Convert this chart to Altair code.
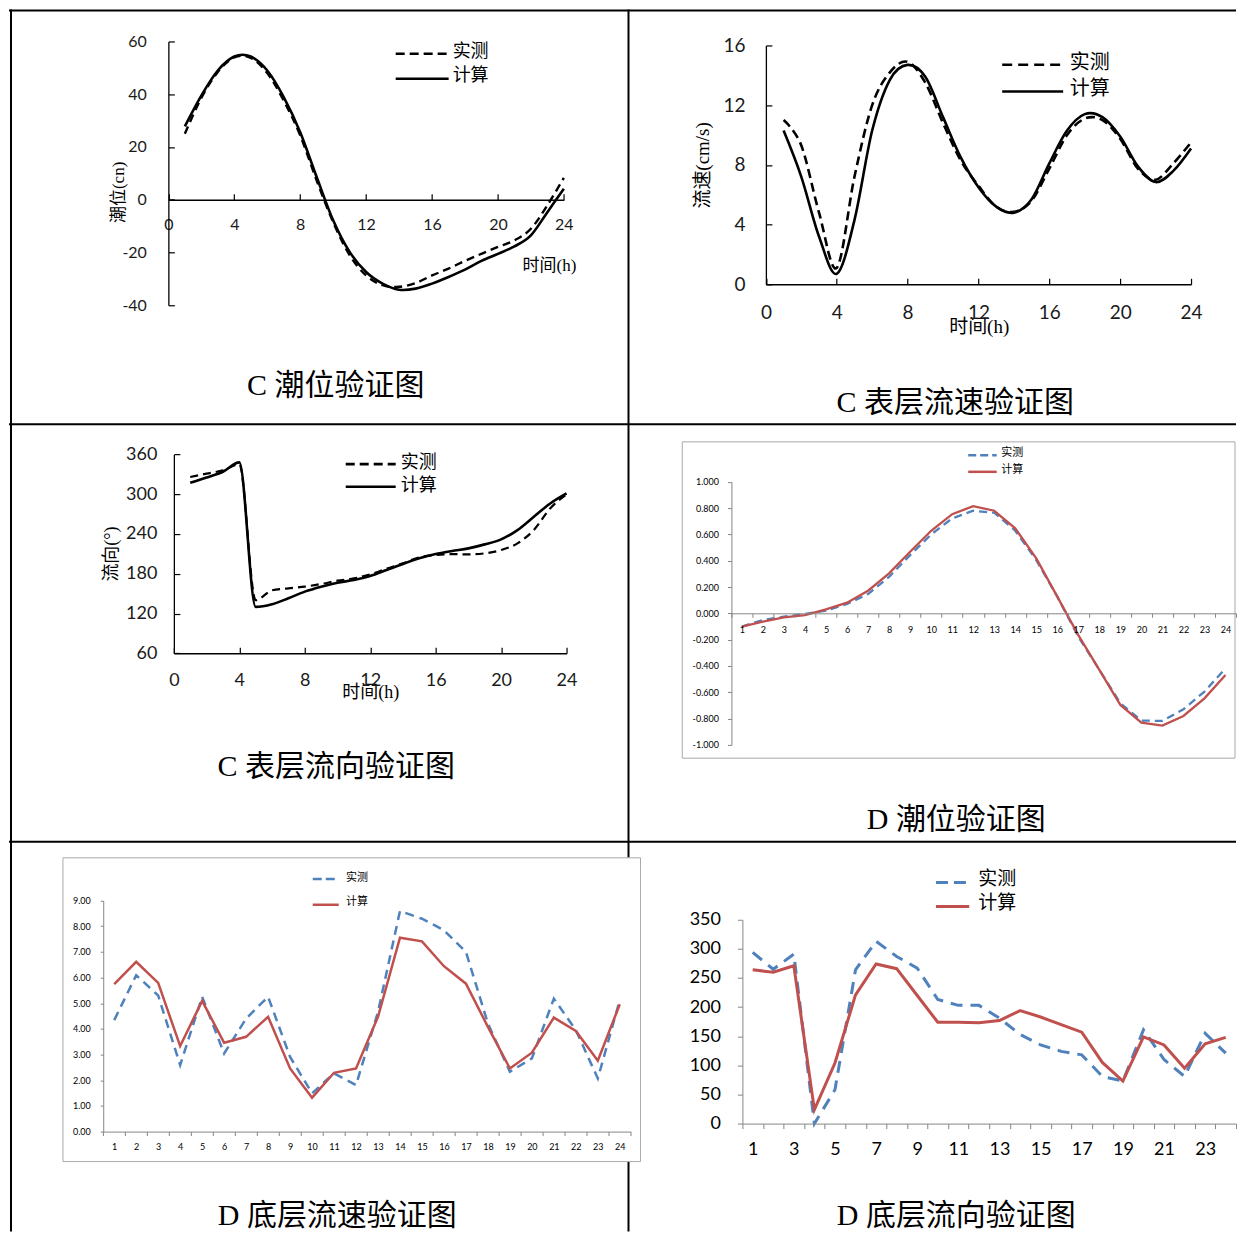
import altair as alt
import pandas as pd

hours = list(range(1, 25))

# C 潮位 (cm)
a_meas = [25.0, 38.6, 48.4, 54.0, 53.8, 48.0, 37.6, 24.4, 7.3, -8.5, -21.0, -28.7,
          -32.4, -33.0, -31.6, -28.7, -26.1, -23.2, -20.5, -17.9, -15.4, -11.0, -2.1, 8.3]
a_calc = [27.8, 39.5, 49.0, 54.3, 54.3, 49.0, 38.9, 25.6, 8.6, -7.8, -19.8, -27.4,
          -31.8, -34.1, -33.7, -31.8, -29.3, -26.5, -23.2, -20.5, -17.7, -13.5, -4.7, 4.2]
# C 表层流速 (cm/s)
b_meas = [11.0, 9.3, 4.8, 1.1, 7.2, 12.0, 14.2, 14.9, 13.5, 10.8, 8.3, 6.6,
          5.2, 4.85, 5.6, 7.75, 10.0, 11.1, 11.0, 9.75, 7.75, 7.0, 8.1, 9.5]
b_calc = [10.3, 7.2, 3.2, 0.7, 4.3, 10.3, 13.7, 14.7, 13.9, 11.2, 8.5, 6.5,
          5.2, 4.8, 5.7, 8.1, 10.3, 11.4, 11.2, 9.9, 7.9, 6.85, 7.6, 9.1]
# C 表层流向 (°)
c_meas = [326, 331, 336, 345, 140, 155, 158, 160.5, 164.5, 169.5, 173, 179,
          187.6, 195.7, 204.7, 208.2, 209.7, 209.2, 210.8, 215.8, 225.8, 246, 278.6, 299.7]
c_calc = [317.3, 325.3, 333.9, 348, 130, 134, 143, 153, 160.5, 166.5, 170.5, 176.6,
          185.6, 194.7, 203.2, 209.7, 214.3, 218.3, 224.3, 231.9, 245.9, 266, 286, 301.2]
# D 潮位
d_meas = [-0.101, -0.05, -0.025, -0.005, 0.02, 0.071, 0.147, 0.278, 0.443, 0.6, 0.722, 0.78,
          0.765, 0.628, 0.405, 0.127, -0.177, -0.43, -0.684, -0.815, -0.818, -0.729, -0.595, -0.418]
d_calc = [-0.101, -0.063, -0.03, -0.013, 0.03, 0.081, 0.172, 0.304, 0.468, 0.628, 0.754, 0.815,
          0.78, 0.646, 0.418, 0.127, -0.165, -0.43, -0.696, -0.83, -0.853, -0.78, -0.646, -0.468]
# D 底层流速
e_meas = [4.34, 6.09, 5.3, 2.59, 5.25, 3.04, 4.40, 5.25, 2.91, 1.49, 2.27, 1.81,
          4.66, 8.59, 8.29, 7.84, 7.0, 4.21, 2.33, 2.85, 5.18, 3.95, 2.07, 5.12]
e_calc = [5.74, 6.61, 5.79, 3.33, 5.09, 3.46, 3.69, 4.47, 2.46, 1.32, 2.29, 2.46,
          4.47, 7.55, 7.41, 6.44, 5.76, 4.08, 2.46, 3.07, 4.44, 3.92, 2.76, 4.96]
# D 底层流向
f_meas = [294, 265, 291, 0, 58, 264, 313, 287, 267, 213, 203, 203,
          181, 153, 135, 124, 118, 81, 73, 161, 110, 81, 155, 121]
f_calc = [264, 260, 271, 24, 104, 221, 274, 266, 220, 174, 174, 173,
          177, 194, 183, 170, 157, 105, 73, 149, 135, 95, 137, 148]

a_xvals = [0, 4, 8, 12, 16, 20, 24]
a_yvals = [-40, -20, 0, 20, 40, 60]
b_yvals = [0, 4, 8, 12, 16]
c_yvals = [60, 120, 180, 240, 300, 360]
d_yvals = [-1.0, -0.8, -0.6, -0.4, -0.2, 0.0, 0.2, 0.4, 0.6, 0.8, 1.0]
e_yvals = [0, 1, 2, 3, 4, 5, 6, 7, 8, 9]
f_yvals = [0, 50, 100, 150, 200, 250, 300, 350]
cat_ticks = [h - 0.5 for h in hours] + [24.5]

legend_texts = ["实测", "计算"]
captions = ["C 潮位验证图", "C 表层流速验证图", "C 表层流向验证图",
            "D 潮位验证图", "D 底层流速验证图", "D 底层流向验证图"]

FONT_NUM = "Lato"
FONT_CJK = "Noto Sans CJK SC"
FONT_MIX = "Liberation Serif, Noto Sans CJK SC"
BLUE = "#4F81BD"
RED = "#C0504D"
GRAY = "#868686"
FIX = "replace(datum.label, '\u2212', '-')"
CAP = 30

one = pd.DataFrame({"k": [0]})


def hline(x1, x2, y, color="#000", w=2, dash=None):
    kw = dict(color=color, strokeWidth=w)
    if dash:
        kw["strokeDash"] = dash
    return alt.Chart(one).mark_rule(**kw).encode(x=alt.value(x1), x2=alt.value(x2), y=alt.value(y))


def vline(x, y1, y2, color="#000", w=2):
    return alt.Chart(one).mark_rule(color=color, strokeWidth=w).encode(
        x=alt.value(x), y=alt.value(y1), y2=alt.value(y2))


def text(t, x, y, size, font, align="left", angle=None, color="#000"):
    kw = dict(text=t, fontSize=size, font=font, align=align, baseline="middle", color=color)
    if angle is not None:
        kw["angle"] = angle
    return alt.Chart(one).mark_text(**kw).encode(x=alt.value(x), y=alt.value(y))


def frame(x1, x2, y1, y2):
    return alt.Chart(one).mark_rect(fill="white", stroke="#aaaaaa", strokeWidth=1).encode(
        x=alt.value(x1), x2=alt.value(x2), y=alt.value(y1), y2=alt.value(y2))


def legend(x1, x2, y1, y2, tx, ty1, ty2, size, c1, c2, w, dash):
    return [
        hline(x1, x2, y1, color=c1, w=w, dash=dash),
        hline(x1, x2, y2, color=c2, w=w),
        text(legend_texts[0], tx, ty1, size, FONT_CJK),
        text(legend_texts[1], tx, ty2, size, FONT_CJK),
    ]


def smooth_lines(W, H, meas, calc, xr, ybot, ytop, ydom, yvals, xax, yax, fs,
                 xpad, ypad, interp, dash, wm, wc):
    df = pd.DataFrame({"h": hours, "meas": meas, "calc": calc})
    xs = alt.Scale(domain=[0, 24], range=xr, nice=False, zero=False)
    ys = alt.Scale(domain=ydom, range=[ybot, ytop], nice=False, zero=False)
    common = dict(grid=False, zindex=1, title=None)
    lab = dict(labelFont=FONT_NUM, labelFontSize=fs, labelColor="#1a1a1a",
               labelOverlap=False, labelFlush=False, labelExpr=FIX)
    l1 = alt.Chart(df).mark_line(color="#000", strokeWidth=wm, strokeDash=dash,
                                 interpolate=interp).encode(
        x=alt.X("h:Q", scale=xs, axis=alt.Axis(
            orient="bottom", offset=xax - H, values=a_xvals, ticks=False,
            labelPadding=xpad, labelBaseline="middle", domainColor="#000",
            domainWidth=1.3, **lab, **common)),
        y=alt.Y("meas:Q", scale=ys, axis=alt.Axis(
            orient="left", offset=-yax, values=yvals, ticks=False,
            labelPadding=ypad, domainColor="#000", domainWidth=1.3, **lab, **common)),
    )
    l2 = alt.Chart(df).mark_line(color="#000", strokeWidth=wc, interpolate=interp).encode(
        x=alt.X("h:Q", scale=xs, axis=alt.Axis(
            orient="top", offset=-xax, values=a_xvals, labels=False, domain=False,
            ticks=True, tickSize=6, tickColor="#000", tickWidth=1.2, **common)),
        y=alt.Y("calc:Q", scale=ys, axis=alt.Axis(
            orient="right", offset=yax - W, values=yvals, labels=False, domain=False,
            ticks=True, tickSize=6, tickColor="#000", tickWidth=1.2, **common)),
    )
    return [l1, l2]


def cat_lines(meas, calc, xr, ybot, ytop, ydom, yvals, xax, yax, H, fs, xpad, ypad,
              tick_x, tick_y, fmt, dash, w, odd_only=False):
    df = pd.DataFrame({"h": hours, "meas": meas, "calc": calc})
    xs = alt.Scale(domain=[0.5, 24.5], range=xr, nice=False, zero=False)
    ys = alt.Scale(domain=ydom, range=[ybot, ytop], nice=False, zero=False)
    base = dict(grid=False, zindex=1, title=None, domainColor=GRAY, tickColor=GRAY,
                labelOverlap=False)
    lab = dict(labelFont=FONT_NUM, labelFontSize=fs, labelColor="#000", labelFlush=False)
    xlabels = [h for h in hours if (h % 2 == 1 or not odd_only)]
    x_lab_axis = alt.Axis(orient="bottom", offset=xax - H, values=xlabels, ticks=False,
                          labelPadding=tick_x + xpad, labelBaseline="middle", format="d",
                          **lab, **base)
    x_tick_axis = alt.Axis(orient="bottom", offset=xax - H, values=cat_ticks, labels=False,
                           domain=False, ticks=True, tickSize=tick_x, **base)
    y_axis = alt.Axis(orient="left", offset=-yax, values=yvals, format=fmt, ticks=True,
                      tickSize=tick_y, labelPadding=ypad, labelExpr=FIX, **lab, **base)
    l1 = alt.Chart(df).mark_line(color=BLUE, strokeWidth=w, strokeDash=dash).encode(
        x=alt.X("h:Q", scale=xs, axis=x_lab_axis),
        y=alt.Y("meas:Q", scale=ys, axis=y_axis),
    )
    l2 = alt.Chart(df).mark_line(color=RED, strokeWidth=w).encode(
        x=alt.X("h:Q", scale=xs, axis=x_tick_axis),
        y=alt.Y("calc:Q", scale=ys, axis=y_axis),
    )
    return [l1, l2]


# ---------------- Row 1 ----------------
WA, HA = 620, 416
panel_a = alt.layer(
    hline(0, WA, 2), vline(2, 1, HA), vline(WA, 1, HA), hline(0, WA, HA),
    *smooth_lines(WA, HA, a_meas, a_calc, [159.5, 555.3], 297, 33, [-40, 60], a_yvals,
                  191.4, 159.5, 16, 25, 22, "cardinal", [8, 5], 2.4, 2.6),
    *legend(387, 440, 45.3, 70.3, 444, 43.7, 67.8, 18, "#000", "#000", 2.6, [9, 5]),
    text("潮位(cn)", 110, 184, 17, FONT_MIX, align="center", angle=270),
    text("时间(h)", 514, 258, 17, FONT_MIX),
    text(captions[0], 327, 377.5, CAP, FONT_MIX, align="center"),
).properties(width=WA, height=HA)

WB, HB = 608, 416
panel_b = alt.layer(
    hline(0, WB, 2), hline(0, WB, HB),
    *smooth_lines(WB, HB, b_meas, b_calc, [137.5, 563], 276, 37, [0, 16], b_yvals,
                  276, 137.5, 19, 28, 21, "cardinal", [9, 5], 2.6, 2.6),
    *legend(374, 435, 56.3, 83, 441.7, 54.5, 81, 20, "#000", "#000", 2.6, [10, 6]),
    text("流速(cm/s)", 75, 157, 19, FONT_MIX, align="center", angle=270),
    text("时间(h)", 351, 319, 19, FONT_MIX, align="center"),
    text(captions[1], 327, 395, CAP, FONT_MIX, align="center"),
).properties(width=WB, height=HB)

# ---------------- Row 2 ----------------
WC, HC = 620, 418
panel_c = alt.layer(
    vline(2, 0, HC), vline(WC, 0, HC), hline(0, WC, HC),
    *smooth_lines(WC, HC, c_meas, c_calc, [165, 558], 229.3, 30.3, [60, 360], c_yvals,
                  229.3, 165, 18, 27, 17, "monotone", [8, 5], 2.2, 2.6),
    *legend(337, 387, 40, 62.7, 392, 39.3, 61.8, 18, "#000", "#000", 2.6, [9, 5]),
    text("流向(°)", 102.7, 130, 18, FONT_MIX, align="center", angle=270),
    text("时间(h)", 362, 269, 18, FONT_MIX, align="center"),
    text(captions[2], 327.5, 343, CAP, FONT_MIX, align="center"),
).properties(width=WC, height=HC)

WD, HD = 608, 418
panel_d = alt.layer(
    hline(0, WD, HD),
    frame(53.8, WD - 1, 17.7, 334.3),
    *cat_lines(d_meas, d_calc, [103, 608], 321, 57.7, [-1, 1], d_yvals, 189.3, 103, HD,
               9, 12, 9, 4, 4, ".3f", [8, 5], 2.3),
    *legend(340, 368.5, 31, 47.7, 373, 28.5, 46, 11, BLUE, RED, 2.5, [8, 4]),
    text(captions[3], 328, 396, CAP, FONT_MIX, align="center"),
).properties(width=WD, height=HD).resolve_axis(x="independent")

# ---------------- Row 3 ----------------
WE, HE = 620, 390
panel_e = alt.layer(
    vline(2, 0, HE), vline(WE, 0, 16), vline(WE, 320, HE),
    frame(54, 632, 16, 320),
    *cat_lines(e_meas, e_calc, [94.3, 622.3], 290, 58.7, [0, 9], e_yvals, 290, 94.3, HE,
               9, 11, 10, 4, 3, ".2f", [9, 6], 2.5),
    *legend(304, 330, 37.3, 63, 337.4, 36.3, 60.7, 11, BLUE, RED, 2.5, [9, 4]),
    text(captions[4], 328.5, 374, CAP, FONT_MIX, align="center"),
).properties(width=WE, height=HE).resolve_axis(x="independent")

WF, HF = 608, 390
panel_f = alt.layer(
    *cat_lines(f_meas, f_calc, [114, 608], 282, 78, [0, 350], f_yvals, 282, 114, HF,
               18, 21, 17, 5, 5, "d", [12, 8], 3, odd_only=True),
    *legend(307.7, 341, 40.7, 64.7, 350, 37, 61, 19, BLUE, RED, 3, [12, 6]),
    text(captions[5], 328, 374, CAP, FONT_MIX, align="center"),
).properties(width=WF, height=HF).resolve_axis(x="independent")

chart = alt.concat(
    panel_a, panel_b, panel_c, panel_d, panel_e, panel_f,
    columns=2, spacing=0, bounds="flush",
).properties(padding=0).configure_view(strokeWidth=0)

chart.save("out.html", embed_options={"renderer": "svg", "actions": False})
